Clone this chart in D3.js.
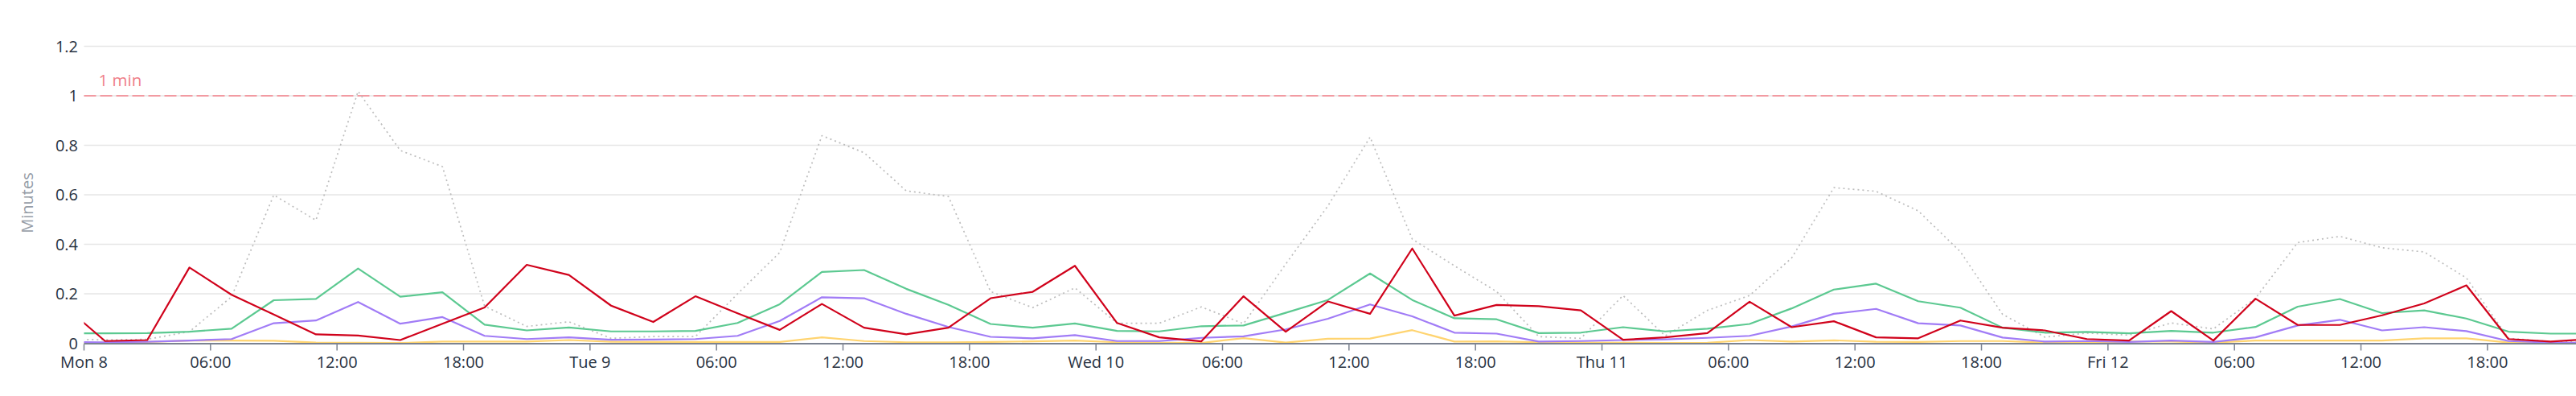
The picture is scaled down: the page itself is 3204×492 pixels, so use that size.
<!DOCTYPE html>
<html>
<head>
<meta charset="utf-8">
<script src="https://cdn.jsdelivr.net/npm/d3@7"></script>
<style>
  html, body { margin: 0; padding: 0; background: #fff; }
  svg { display: block; }
  text { font-family: "Open Sans", "Noto Sans", sans-serif; }
</style>
</head>
<body>
<svg id="chart" width="3204" height="492"></svg>
<script>
// ---- data (one point every 2 hours, starting Sun 23:00) ----
const startTime = new Date(2024, 0, 7, 23, 0);   // first sample
const stepHours = 2;
const domainStart = new Date(2024, 0, 8, 0, 0);  // Mon 8
const domainEnd = new Date(2024, 0, 12, 22, 12); // right edge of view

const seriesRed = [0.155,0.009,0.013,0.306,0.196,0.116,0.036,0.031,0.013,0.079,0.145,0.317,0.276,0.152,0.086,0.190,
  0.121,0.054,0.159,0.063,0.036,0.063,0.182,0.208,0.313,0.082,0.024,0.008,0.190,0.047,0.169,0.119,0.383,0.112,0.155,
  0.150,0.133,0.014,0.024,0.041,0.168,0.065,0.089,0.024,0.020,0.092,0.063,0.052,0.017,0.011,0.130,0.011,0.180,0.074,
  0.074,0.113,0.161,0.234,0.017,0.007,0.018];
const seriesGreen = [0.041,0.040,0.041,0.047,0.059,0.174,0.179,0.302,0.188,0.206,0.075,0.052,0.064,0.048,0.048,0.050,
  0.082,0.158,0.288,0.296,0.220,0.155,0.078,0.063,0.080,0.050,0.048,0.069,0.072,0.123,0.175,0.282,0.175,0.101,0.097,
  0.041,0.043,0.065,0.048,0.059,0.078,0.141,0.217,0.241,0.170,0.144,0.063,0.043,0.046,0.040,0.050,0.043,0.066,0.148,
  0.179,0.122,0.133,0.100,0.047,0.039,0.039];
const seriesPurple = [0.005,0.004,0.006,0.011,0.017,0.081,0.092,0.167,0.079,0.106,0.030,0.017,0.024,0.014,0.015,0.017,
  0.030,0.090,0.186,0.182,0.119,0.066,0.026,0.020,0.033,0.009,0.009,0.022,0.028,0.056,0.099,0.157,0.109,0.043,0.039,
  0.007,0.009,0.013,0.016,0.022,0.030,0.068,0.119,0.139,0.081,0.072,0.023,0.007,0.009,0.005,0.011,0.005,0.024,0.072,
  0.095,0.052,0.065,0.049,0.009,0.003,0.001];
const seriesYellow = [0.001,0.002,0.005,0.011,0.011,0.010,0.003,0.002,0.001,0.007,0.007,0.007,0.013,0.006,0.005,0.005,
  0.005,0.005,0.024,0.009,0.004,0.004,0.005,0.008,0.011,0.004,0.002,0.001,0.021,0.003,0.018,0.019,0.053,0.007,0.008,
  0.004,0.003,0.002,0.001,0.002,0.013,0.007,0.012,0.006,0.005,0.009,0.009,0.003,0.002,0.007,0.007,0.003,0.011,0.011,
  0.011,0.011,0.020,0.020,0.003,0.001,0.000];
const seriesGray = [0.017,0.014,0.016,0.047,0.188,0.599,0.497,1.018,0.779,0.714,0.150,0.068,0.087,0.020,0.027,0.027,
  0.200,0.367,0.839,0.770,0.616,0.593,0.209,0.144,0.224,0.081,0.081,0.147,0.079,0.320,0.555,0.833,0.421,0.313,0.209,
  0.027,0.020,0.193,0.030,0.133,0.193,0.345,0.629,0.614,0.535,0.370,0.117,0.025,0.041,0.033,0.082,0.058,0.182,0.407,
  0.432,0.386,0.369,0.264,0.020,0.007,0.003];

const yTicks = [0, 0.2, 0.4, 0.6, 0.8, 1, 1.2];
const yTickLabels = ["0", "0.2", "0.4", "0.6", "0.8", "1", "1.2"];
const thresholdValue = 1;
const thresholdLabel = "1 min";
const yTitle = "Minutes";

// ---- layout ----
const W = 3204, H = 492;
const left = 104.5, right = 3204, yBottom = 426.5, yTop = 57.5;

const svg = d3.select("#chart");
const x = d3.scaleTime().domain([domainStart, domainEnd]).range([left, right]);
const y = d3.scaleLinear().domain([0, 1.2]).range([yBottom, yTop]);

const times = seriesRed.map((_, i) => d3.timeHour.offset(startTime, i * stepHours));

// gridlines
svg.append("g").selectAll("line").data(yTicks.filter(v => v !== 0)).join("line")
  .attr("x1", left).attr("x2", right)
  .attr("y1", d => y(d)).attr("y2", d => y(d))
  .attr("stroke", "#e6e6e6").attr("stroke-width", 1.5);

// y tick labels
svg.append("g").selectAll("text").data(yTicks).join("text")
  .attr("x", 97).attr("y", d => y(d)).attr("dy", "0.35em")
  .attr("text-anchor", "end")
  .attr("font-size", "20px").attr("fill", "#27313f")
  .text((d, i) => yTickLabels[i]);

// y title
svg.append("text")
  .attr("transform", "translate(40.5," + ((yTop + yBottom) / 2 + 10) + ") rotate(-90)")
  .attr("text-anchor", "middle")
  .attr("font-size", "20px").attr("fill", "#959ca6")
  .text(yTitle);

// threshold
svg.append("line")
  .attr("x1", left).attr("x2", right)
  .attr("y1", y(thresholdValue)).attr("y2", y(thresholdValue))
  .attr("stroke", "#f29ba2").attr("stroke-width", 2)
  .attr("stroke-dasharray", "15,5");
svg.append("text")
  .attr("x", left + 18).attr("y", y(thresholdValue) - 12)
  .attr("font-size", "20.5px").attr("fill", "#ef7f89")
  .text(thresholdLabel);

// clip
svg.append("clipPath").attr("id", "clip").append("rect")
  .attr("x", left).attr("y", 0).attr("width", right - left).attr("height", yBottom + 2);

const line = d3.line().x((d, i) => x(times[i])).y(d => y(d));
const plot = svg.append("g").attr("clip-path", "url(#clip)");

const seriesDefs = [
  { values: seriesGray, color: "#bdbdbd", width: 1.7, dash: "2,4" },
  { values: seriesYellow, color: "#ffd470", width: 2.2, dash: null },
  { values: seriesPurple, color: "#a17cf6", width: 2.2, dash: null },
  { values: seriesGreen, color: "#5cc991", width: 2.2, dash: null },
  { values: seriesRed, color: "#d0021b", width: 2.2, dash: null }
];
seriesDefs.forEach(s => {
  plot.append("path").datum(s.values)
    .attr("d", line)
    .attr("fill", "none")
    .attr("stroke", s.color)
    .attr("stroke-width", s.width)
    .attr("stroke-linejoin", "round")
    .attr("stroke-dasharray", s.dash);
});

// x axis
svg.append("line")
  .attr("x1", left).attr("x2", right)
  .attr("y1", yBottom + 0.5).attr("y2", yBottom + 0.5)
  .attr("stroke", "#7c8391").attr("stroke-width", 2);

const xTicks = d3.timeHour.every(6).range(domainStart, domainEnd);
const fmtDay = d3.timeFormat("%a %-d");
const fmtHour = d3.timeFormat("%H:%M");
const gx = svg.append("g");
gx.selectAll("line").data(xTicks).join("line")
  .attr("x1", d => x(d)).attr("x2", d => x(d))
  .attr("y1", yBottom + 1).attr("y2", yBottom + 9)
  .attr("stroke", "#7c8391").attr("stroke-width", 1.5);
gx.selectAll("text").data(xTicks).join("text")
  .attr("x", d => x(d)).attr("y", 457)
  .attr("text-anchor", "middle")
  .attr("font-size", "20px").attr("fill", "#27313f")
  .text(d => d.getHours() === 0 ? fmtDay(d) : fmtHour(d));
</script>
</body>
</html>
